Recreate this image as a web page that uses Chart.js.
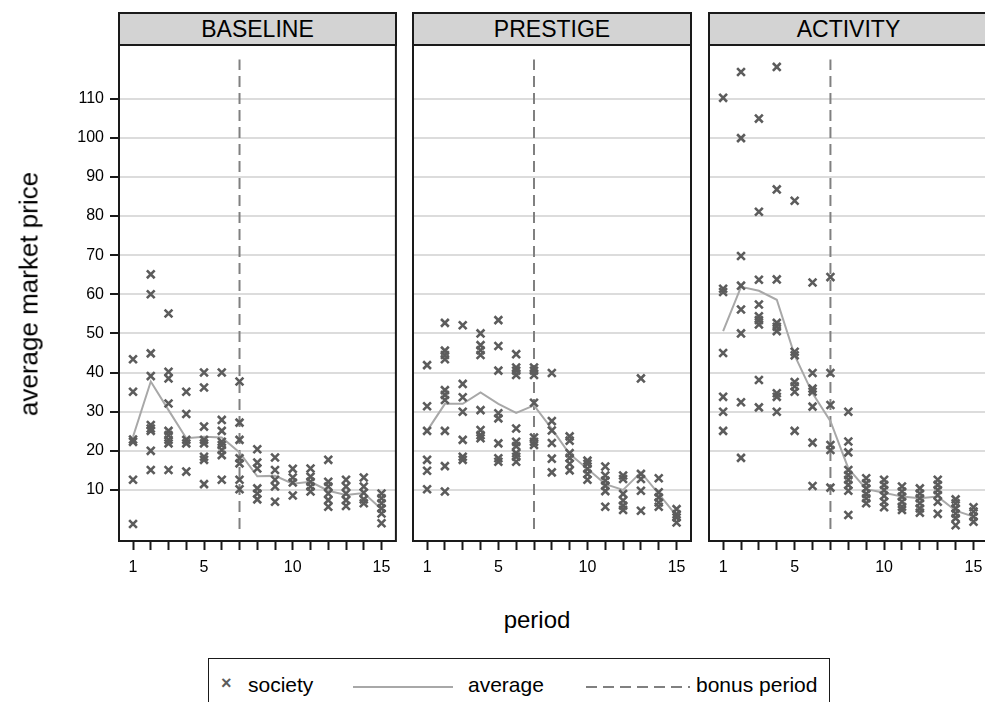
<!DOCTYPE html>
<html>
<head>
<meta charset="utf-8">
<title>average market price by period</title>
<script src="https://cdn.jsdelivr.net/npm/chart.js@4/dist/chart.umd.min.js"></script>
<style>
    html, body { margin: 0; padding: 0; background: #fff; overflow: hidden; }
    #page {
        position: relative; width: 985px; height: 702px; overflow: hidden;
        font-family: "Liberation Sans", Arial, sans-serif; color: #000;
    }
    canvas { position: absolute; top: 0; }
    .strip {
        position: absolute; top: 12px; height: 34px; box-sizing: border-box;
        background: #d3d3d3; border: 2px solid #1a1a1a;
        text-align: center; font-size: 23px; line-height: 30px;
    }
    #ytitle {
        position: absolute; left: 29px; top: 294px; font-size: 26px; white-space: nowrap;
        transform: translate(-50%, -50%) rotate(-90deg);
    }
    #xtitle { position: absolute; left: 537px; top: 620px; font-size: 24px; transform: translate(-50%, -50%); }
    #legend {
        position: absolute; left: 208px; top: 658px; width: 622px; height: 60px;
        box-sizing: border-box; border: 1px solid #1a1a1a; font-size: 21px;
    }
    #legend > * { position: absolute; }
    #legend .txt { top: 14px; }
    #legend .mark { left: 12px; top: 14px; font-size: 18px; font-weight: bold; color: #5c5c5c; }
    #legend .solid { left: 144px; width: 100px; top: 27px; height: 2px; background: #a8a8a8; }
    #legend .dash { left: 377px; width: 104px; top: 27px; height: 2px;
        background: repeating-linear-gradient(to right, #808080 0 11px, transparent 11px 17px); }
</style>
</head>
<body>
<div id="page">
<div id="ytitle">average market price</div>
<div id="xtitle">period</div>
<div id="legend">
    <span class="mark">×</span><span class="txt" style="left:39px">society</span>
    <div class="solid"></div><span class="txt" style="left:259px">average</span>
    <div class="dash"></div><span class="txt" style="left:487px">bonus period</span>
</div>
</div>

<script>
// ðŸ”¹ Data
const periods = [1, 2, 3, 4, 5, 6, 7, 8, 9, 10, 11, 12, 13, 14, 15];
const xTickLabels = [1, 5, 10, 15];
const yTicks = [10, 20, 30, 40, 50, 60, 70, 80, 90, 100, 110];
const bonusPeriod = 7;
const bonusSpan = [0, 120];
const panelNames = ["BASELINE", "PRESTIGE", "ACTIVITY"];

const baselinePrices = [
    [43.4, 35.1, 22.9, 22.3, 12.6, 1.3],
    [65.1, 60, 44.9, 39.1, 26.6, 25.7, 25.1, 20, 15.1],
    [55.1, 40.2, 38.5, 32.1, 25.1, 24, 22.8, 21.9, 15.1],
    [35.1, 29.4, 22.8, 21.9, 14.7],
    [40, 36.2, 26.2, 22.8, 21.9, 18.5, 17.7, 11.5],
    [40, 27.9, 25.1, 22.3, 21.5, 20.2, 18.9, 12.6],
    [37.7, 27.2, 22.8, 18.1, 16.8, 12.6, 10.2],
    [20.4, 17, 15.5, 10.4, 9.1, 7.6],
    [18.3, 15.1, 12.6, 10.9, 7],
    [15.4, 13.2, 11.9, 8.6],
    [15.5, 13.4, 12.1, 10.9, 9.6],
    [17.7, 12.1, 10.9, 9.1, 7.4, 5.7],
    [12.6, 10.9, 9.1, 7.4, 5.9],
    [13.2, 10.9, 9.3, 7.6, 6.6],
    [9.1, 7.9, 6.6, 5.3, 4, 1.5]
];
const baselineAverage = [23.6, 37.7, 30.4, 23.2, 23.6, 23.4, 19.6, 13.5, 13.6, 11.6, 12.1, 9.8, 8.7, 9.2, 5.1];

const prestigePrices = [
    [41.9, 31.4, 25.1, 17.7, 14.9, 10.2],
    [52.7, 45.6, 44.5, 43.4, 35.5, 34.3, 33, 25.1, 16.1, 9.6],
    [52.1, 37.1, 33.7, 30, 22.8, 18.5, 17.7],
    [50, 47, 45.7, 44.5, 30.4, 25.3, 24, 23.2],
    [53.4, 46.8, 40.5, 29.6, 28.3, 21.9, 18.1, 17.2],
    [44.7, 41.3, 40.5, 39.4, 25.7, 22.3, 21.2, 19.4, 18.5, 17.2],
    [41.3, 40.5, 39.4, 32.3, 23.4, 22.3, 21.5],
    [39.9, 27.6, 25.2, 22, 18, 14.5],
    [23.7, 22.6, 19.4, 18.2, 16.7, 15],
    [17.5, 16.7, 15.4, 14.1, 12.6],
    [16, 13.7, 12.4, 11.1, 9.7, 5.7],
    [13.7, 12.8, 9, 7.3, 6, 4.9],
    [38.5, 14.1, 12.8, 9.8, 4.7],
    [13, 9.4, 8.1, 6.8, 5.7],
    [5.1, 3.8, 3, 1.7]
];
const prestigeAverage = [25.1, 32, 32, 34.9, 32, 29.7, 31.6, 25.6, 19.2, 15.4, 11.5, 10, 14.5, 9, 3.4];

const activityPrices = [
    [110.2, 61.4, 60.6, 45, 33.8, 30, 25.1],
    [116.8, 99.9, 69.8, 62.2, 56.1, 50, 32.4, 18.2],
    [104.9, 81.1, 63.7, 57.4, 54.4, 53.4, 52.3, 38.1, 31.1],
    [118.1, 86.8, 63.8, 52.7, 51.7, 50.6, 34.7, 33.8, 30],
    [83.9, 45.3, 44.4, 37.6, 36.5, 35.1, 25.1],
    [63, 39.9, 35.9, 35.1, 31.3, 22.1, 11],
    [64.4, 39.9, 31.7, 21.5, 20.2, 10.6],
    [30, 22.4, 19.6, 15.1, 13.8, 12.6, 11.3, 9.8, 3.6],
    [13, 11.7, 10.4, 9, 7.9, 6.6],
    [12.6, 11.3, 10, 8.5, 7, 5.6],
    [10.9, 9.6, 8.3, 7, 5.7, 4.9],
    [10.4, 9.1, 7.9, 6.6, 5.3, 4.2],
    [12.6, 11.3, 10, 8.7, 7, 3.9],
    [7.6, 6.6, 5.3, 4, 2.8, 1],
    [5.6, 4.5, 3.2, 1.9]
];
const activityAverage = [50.6, 61.9, 60.9, 58.6, 44.4, 34.7, 27.6, 15.5, 10.2, 9.3, 8.3, 7.9, 8.3, 4.7, 3.2];

// ðŸ”¹ Panel placement on the page
const CANVAS_H = 600, PLOT_TOP = 45, PLOT_BOTTOM = 541;
const panels = [
    { left: 0,   width: 404, plotLeft: 119, plotRight: 396, prices: baselinePrices, average: baselineAverage, showY: true },
    { left: 404, width: 300, plotLeft: 413, plotRight: 691, prices: prestigePrices, average: prestigeAverage, showY: false },
    { left: 700, width: 298, plotLeft: 709, plotRight: 988, prices: activityPrices, average: activityAverage, showY: false }
];

Chart.defaults.font.family = "'Liberation Sans', Arial, sans-serif";
Chart.defaults.color = "#000";

// frame around each plot area
const framePlugin = {
    id: "frame",
    afterDraw(chart) {
        const { ctx, chartArea: a } = chart;
        ctx.save();
        ctx.strokeStyle = "#1a1a1a";
        ctx.lineWidth = 2;
        ctx.strokeRect(a.left, a.top, a.right - a.left, a.bottom - a.top);
        ctx.restore();
    }
};

function toPoints(pricesByPeriod) {
    const pts = [];
    pricesByPeriod.forEach((vals, i) => vals.forEach(v => pts.push({ x: periods[i], y: v })));
    return pts;
}

const page = document.getElementById("page");

panels.forEach((p, idx) => {
    const strip = document.createElement("div");
    strip.className = "strip";
    strip.style.left = (p.plotLeft - 1) + "px";
    strip.style.width = (p.plotRight - p.plotLeft + 2) + "px";
    strip.textContent = panelNames[idx];

    const canvas = document.createElement("canvas");
    canvas.width = p.width;
    canvas.height = CANVAS_H;
    canvas.style.left = p.left + "px";
    page.insertBefore(canvas, document.getElementById("ytitle"));
    page.appendChild(strip);

    new Chart(canvas.getContext("2d"), {
        type: "scatter",
        data: {
            datasets: [
                {
                    label: "society",
                    data: toPoints(p.prices),
                    pointStyle: "crossRot",
                    pointRadius: 5.5,
                    borderWidth: 2.6,
                    borderColor: "#5c5c5c",
                    backgroundColor: "#5c5c5c"
                },
                {
                    label: "average",
                    data: periods.map((x, i) => ({ x, y: p.average[i] })),
                    showLine: true,
                    pointRadius: 0,
                    borderColor: "#a8a8a8",
                    borderWidth: 2
                },
                {
                    label: "bonus period",
                    data: bonusSpan.map(y => ({ x: bonusPeriod, y })),
                    showLine: true,
                    pointRadius: 0,
                    borderColor: "#808080",
                    borderWidth: 2,
                    borderDash: [11, 6]
                }
            ]
        },
        options: {
            responsive: false,
            animation: false,
            layout: { padding: { top: PLOT_TOP, right: p.left + p.width - p.plotRight, left: 0, bottom: 0 } },
            plugins: { legend: { display: false }, tooltip: { enabled: false } },
            scales: {
                x: {
                    type: "linear",
                    min: 0.21,
                    max: 15.81,
                    afterBuildTicks: s => { s.ticks = periods.map(v => ({ value: v })); },
                    afterFit: s => { s.height = CANVAS_H - PLOT_BOTTOM; },
                    border: { display: false },
                    grid: { drawOnChartArea: false, drawTicks: true, tickLength: 9, tickColor: "#1a1a1a", tickWidth: 2 },
                    ticks: {
                        autoSkip: false,
                        maxRotation: 0,
                        padding: 8,
                        font: { size: 16 },
                        callback: v => xTickLabels.includes(v) ? String(v) : ""
                    }
                },
                y: {
                    min: -3.04,
                    max: 123.7,
                    afterBuildTicks: s => { s.ticks = yTicks.map(v => ({ value: v })); },
                    afterFit: s => { s.width = p.plotLeft - p.left; },
                    border: { display: false },
                    grid: {
                        color: "#dcdcdc",
                        lineWidth: 2,
                        drawTicks: p.showY,
                        tickLength: 9,
                        tickColor: "#1a1a1a",
                        tickWidth: 2
                    },
                    ticks: { display: p.showY, padding: 6, font: { size: 16 } }
                }
            }
        },
        plugins: [framePlugin]
    });
});
</script>
</body>
</html>
